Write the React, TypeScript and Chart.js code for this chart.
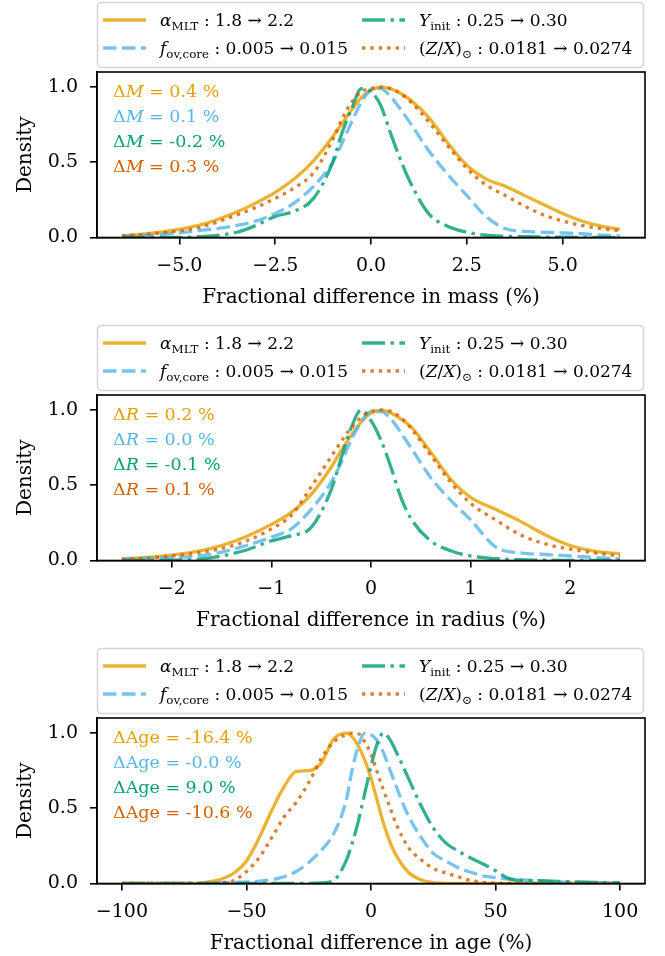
import React, { useEffect, useRef } from 'react';
import { Chart, registerables } from 'chart.js';

Chart.register(...registerables);

// ---------- data ----------
const DENSITY_TICKS = [0, 0.5, 1];

const MASS_X = [-6.5, -5.5, -4.5, -3.5, -3, -2.5, -2, -1.5, -1, -0.75, -0.5, -0.25, 0, 0.25, 0.5, 0.75, 1, 1.5, 2, 2.5, 3, 3.5, 4, 4.5, 5, 5.5, 6, 6.5];
const MASS_ALPHA = [0.01, 0.035, 0.08, 0.17, 0.23, 0.3, 0.39, 0.51, 0.67, 0.76, 0.85, 0.93, 0.98, 1.0, 0.99, 0.96, 0.92, 0.8, 0.63, 0.48, 0.39, 0.34, 0.28, 0.22, 0.16, 0.11, 0.075, 0.055];
const MASS_FOV = [0.01, 0.02, 0.045, 0.08, 0.11, 0.16, 0.23, 0.34, 0.5, 0.63, 0.77, 0.9, 0.98, 0.99, 0.94, 0.86, 0.77, 0.58, 0.42, 0.28, 0.14, 0.06, 0.04, 0.035, 0.03, 0.025, 0.015, 0.01];
const MASS_YINIT = [0, 0, 0.005, 0.035, 0.08, 0.14, 0.175, 0.26, 0.5, 0.7, 0.86, 0.99, 0.97, 0.88, 0.7, 0.53, 0.38, 0.16, 0.075, 0.035, 0.015, 0.008, 0.005, 0.003, 0.002, 0.001, 0, 0];
const MASS_ZX = [0.01, 0.03, 0.065, 0.15, 0.2, 0.26, 0.33, 0.43, 0.65, 0.79, 0.9, 0.97, 0.99, 1.0, 0.99, 0.96, 0.91, 0.77, 0.61, 0.46, 0.35, 0.28, 0.21, 0.15, 0.11, 0.08, 0.06, 0.045];
const MASS_TICKS = [-5, -2.5, 0, 2.5, 5];
const MASS_SHIFTS = ['0.4', '0.1', '-0.2', '0.3'];

const RADIUS_X = [-2.5, -2.25, -2, -1.75, -1.5, -1.25, -1, -0.8, -0.6, -0.4, -0.3, -0.2, -0.1, 0, 0.1, 0.2, 0.3, 0.4, 0.6, 0.8, 1, 1.25, 1.5, 1.75, 2, 2.25, 2.5];
const RADIUS_ALPHA = [0.01, 0.02, 0.035, 0.06, 0.1, 0.16, 0.24, 0.32, 0.44, 0.62, 0.73, 0.83, 0.92, 0.98, 1.0, 0.98, 0.94, 0.89, 0.72, 0.54, 0.42, 0.34, 0.26, 0.17, 0.1, 0.06, 0.045];
const RADIUS_FOV = [0.01, 0.015, 0.02, 0.03, 0.055, 0.1, 0.155, 0.21, 0.34, 0.52, 0.65, 0.8, 0.92, 0.99, 0.99, 0.94, 0.85, 0.75, 0.55, 0.4, 0.27, 0.09, 0.05, 0.04, 0.03, 0.02, 0.01];
const RADIUS_YINIT = [0, 0, 0.002, 0.008, 0.03, 0.07, 0.13, 0.165, 0.22, 0.47, 0.68, 0.88, 1.0, 0.93, 0.8, 0.62, 0.42, 0.28, 0.13, 0.065, 0.03, 0.012, 0.005, 0.002, 0.001, 0, 0];
const RADIUS_ZX = [0.005, 0.015, 0.03, 0.05, 0.08, 0.13, 0.21, 0.3, 0.49, 0.69, 0.79, 0.88, 0.95, 0.99, 1.0, 0.99, 0.95, 0.88, 0.7, 0.52, 0.38, 0.27, 0.17, 0.11, 0.075, 0.05, 0.03];
const RADIUS_TICKS = [-2, -1, 0, 1, 2];
const RADIUS_SHIFTS = ['0.2', '0.0', '-0.1', '0.1'];

const AGE_X = [-100, -90, -80, -70, -65, -60, -55, -50, -45, -40, -35, -30, -25, -20, -15, -10, -7.5, -5, -2.5, 0, 2.5, 5, 7.5, 10, 15, 20, 25, 30, 35, 40, 45, 50, 55, 60, 70, 80, 90, 100];
const AGE_ALPHA = [0, 0, 0, 0.001, 0.01, 0.03, 0.07, 0.15, 0.3, 0.48, 0.64, 0.745, 0.75, 0.8, 0.96, 1.0, 0.975, 0.91, 0.82, 0.7, 0.55, 0.4, 0.28, 0.19, 0.075, 0.025, 0.006, 0.001, 0, 0, 0, 0, 0, 0, 0, 0, 0, 0];
const AGE_FOV = [0, 0, 0.001, 0.002, 0.003, 0.005, 0.007, 0.01, 0.015, 0.025, 0.045, 0.08, 0.14, 0.22, 0.33, 0.55, 0.76, 0.92, 1.0, 0.99, 0.95, 0.87, 0.76, 0.65, 0.45, 0.31, 0.2, 0.15, 0.105, 0.075, 0.05, 0.04, 0.03, 0.025, 0.015, 0.008, 0.005, 0.003];
const AGE_YINIT = [0, 0, 0, 0, 0, 0, 0, 0, 0, 0, 0, 0, 0.001, 0.004, 0.02, 0.15, 0.27, 0.42, 0.6, 0.78, 0.93, 1.0, 0.96, 0.88, 0.7, 0.52, 0.37, 0.27, 0.215, 0.17, 0.13, 0.085, 0.035, 0.02, 0.018, 0.012, 0.008, 0.004];
const AGE_ZX = [0, 0, 0, 0, 0.002, 0.006, 0.02, 0.08, 0.17, 0.3, 0.44, 0.54, 0.67, 0.83, 0.94, 0.99, 1.0, 0.995, 0.94, 0.86, 0.74, 0.62, 0.51, 0.4, 0.24, 0.16, 0.1, 0.07, 0.045, 0.02, 0.008, 0.002, 0, 0, 0, 0, 0, 0];
const AGE_TICKS = [-100, -50, 0, 50, 100];
const AGE_SHIFTS = ['-16.4', '-0.0', '9.0', '-10.6'];

// legend labels (rich-text segments)
type Seg = { t: string; it?: boolean; sub?: boolean };
const LEGEND_LABELS: Seg[][] = [
  [{ t: 'α', it: true }, { t: 'MLT', sub: true }, { t: ' : 1.8 → 2.2' }],
  [{ t: 'f', it: true }, { t: 'ov,core', sub: true }, { t: ' : 0.005 → 0.015' }],
  [{ t: 'Y', it: true }, { t: 'init', sub: true }, { t: ' : 0.25 → 0.30' }],
  [{ t: '(' }, { t: 'Z', it: true }, { t: '/' }, { t: 'X', it: true }, { t: ')' }, { t: '⊙', sub: true }, { t: ' : 0.0181 → 0.0274' }],
];

// ---------- styles ----------
const FONT = '"DejaVu Serif", serif';
const TEXT_COLORS = ['#E69F00', '#56B4E9', '#009E73', '#D55E00'];
const LINE_COLORS = ['rgba(230,159,0,0.8)', 'rgba(86,180,233,0.8)', 'rgba(0,158,115,0.8)', 'rgba(213,94,0,0.8)'];
const DASHES = [[], [13.5, 5.5], [23, 5.5, 3.4, 5.5], [3.4, 5]];
const LINE_W = 3.3;
const PANEL_H = 323;

function fmtTick(v: number, dec: number) {
  const s = Math.abs(v).toFixed(dec);
  return v < 0 ? '\u2212' + s : s;
}

function drawRich(ctx: CanvasRenderingContext2D, segs: Seg[], x: number, y: number, size: number, color: string) {
  let cx = x;
  ctx.fillStyle = color;
  ctx.textAlign = 'left';
  ctx.textBaseline = 'alphabetic';
  for (const s of segs) {
    const fs = s.sub ? size * 0.7 : size;
    ctx.font = `${s.it ? 'italic ' : ''}${fs}px ${FONT}`;
    ctx.fillText(s.t, cx, s.sub ? y + size * 0.22 : y);
    cx += ctx.measureText(s.t).width;
  }
}

type PanelCfg = {
  xs: number[];
  series: number[][];
  ticks: number[];
  dec: number;
  title: string;
  shifts: string[];
  label: Seg[];
};

const PANELS: PanelCfg[] = [
  { xs: MASS_X, series: [MASS_ALPHA, MASS_FOV, MASS_YINIT, MASS_ZX], ticks: MASS_TICKS, dec: 1, title: 'Fractional difference in mass (%)', shifts: MASS_SHIFTS, label: [{ t: 'Δ' }, { t: 'M', it: true }] },
  { xs: RADIUS_X, series: [RADIUS_ALPHA, RADIUS_FOV, RADIUS_YINIT, RADIUS_ZX], ticks: RADIUS_TICKS, dec: 0, title: 'Fractional difference in radius (%)', shifts: RADIUS_SHIFTS, label: [{ t: 'Δ' }, { t: 'R', it: true }] },
  { xs: AGE_X, series: [AGE_ALPHA, AGE_FOV, AGE_YINIT, AGE_ZX], ticks: AGE_TICKS, dec: 0, title: 'Fractional difference in age (%)', shifts: AGE_SHIFTS, label: [{ t: 'ΔAge' }] },
];

function Panel({ cfg, top }: { cfg: PanelCfg; top: number }) {
  const ref = useRef<HTMLCanvasElement | null>(null);
  useEffect(() => {
    const xs = cfg.xs;
    const span = xs[xs.length - 1] - xs[0];
    const xmin = xs[0] - 0.05 * span;
    const xmax = xs[xs.length - 1] + 0.05 * span;

    const overlay = {
      id: 'overlay',
      afterDatasetsDraw(chart: any) {
        const { ctx, chartArea: a } = chart;
        ctx.save();
        ctx.strokeStyle = '#000';
        ctx.lineWidth = 1.6;
        ctx.setLineDash([]);
        ctx.strokeRect(a.left, a.top, a.right - a.left, a.bottom - a.top);
        cfg.shifts.forEach((v, i) => {
          const segs: Seg[] = [...cfg.label, { t: ` = ${v} %` }];
          drawRich(ctx, segs, a.left + 16, a.top + 25 + i * 25, 17.5, TEXT_COLORS[i]);
        });
        ctx.restore();
      },
      afterDraw(chart: any) {
        const { ctx, chartArea: a } = chart;
        ctx.save();
        const bx = a.left, by = 2, bw = a.right - a.left - 2, bh = 65;
        ctx.beginPath();
        (ctx as any).roundRect(bx + 0.5, by + 0.5, bw, bh, 4);
        ctx.fillStyle = '#fff';
        ctx.fill();
        ctx.strokeStyle = '#d4d4d4';
        ctx.lineWidth = 1.5;
        ctx.stroke();
        // column-major order: col0 rows 0,1 ; col1 rows 0,1
        const cols = [bx + 6, bx + 265];
        const rows = [20, 48];
        LEGEND_LABELS.forEach((lab, i) => {
          const col = Math.floor(i / 2), row = i % 2;
          const x0 = cols[col], y0 = rows[row];
          ctx.beginPath();
          ctx.setLineDash(DASHES[i]);
          ctx.lineCap = 'butt';
          ctx.strokeStyle = LINE_COLORS[i];
          ctx.lineWidth = LINE_W;
          ctx.moveTo(x0, y0);
          ctx.lineTo(x0 + 43, y0);
          ctx.stroke();
          ctx.setLineDash([]);
          drawRich(ctx, lab, x0 + 57, y0 + 6, 17, '#000');
        });
        ctx.restore();
      },
    };

    const chart = new Chart(ref.current as HTMLCanvasElement, {
      type: 'line',
      data: {
        datasets: cfg.series.map((ys, i) => ({
          data: xs.map((x, j) => ({ x, y: ys[j] })),
          borderColor: LINE_COLORS[i],
          borderWidth: LINE_W,
          borderDash: DASHES[i],
          borderCapStyle: 'butt',
          pointRadius: 0,
          fill: false,
          cubicInterpolationMode: 'monotone',
          order: 4 - i,
        })),
      },
      options: {
        responsive: false,
        animation: false,
        events: [],
        layout: { padding: { top: 72, right: 20, left: 0, bottom: 0 } },
        plugins: { legend: { display: false }, tooltip: { enabled: false } },
        scales: {
          x: {
            type: 'linear',
            min: xmin,
            max: xmax,
            afterBuildTicks: (s: any) => { s.ticks = cfg.ticks.map((v) => ({ value: v })); },
            afterFit: (s: any) => { s.height = PANEL_H - 237.5; },
            ticks: {
              callback: (v: any) => fmtTick(Number(v), cfg.dec),
              font: { family: FONT, size: 19 },
              color: '#000',
              padding: 10,
              maxRotation: 0,
              autoSkip: false,
            },
            grid: { drawOnChartArea: false, tickLength: 7, color: '#000', lineWidth: 1.6 },
            border: { color: '#000', width: 1.6 },
            title: { display: true, text: cfg.title, font: { family: FONT, size: 20 }, color: '#000', padding: { top: 0, bottom: 13 } },
          },
          y: {
            min: 0,
            max: 1.1,
            afterBuildTicks: (s: any) => { s.ticks = DENSITY_TICKS.map((v) => ({ value: v })); },
            afterFit: (s: any) => { s.width = 97; },
            ticks: {
              callback: (v: any) => Number(v).toFixed(1),
              font: { family: FONT, size: 19 },
              color: '#000',
              padding: 12,
            },
            grid: { drawOnChartArea: false, tickLength: 7, color: '#000', lineWidth: 1.6 },
            border: { color: '#000', width: 1.6 },
            title: { display: true, text: 'Density', font: { family: FONT, size: 20 }, color: '#000', padding: { top: 14, bottom: 0 } },
          },
        },
      },
      plugins: [overlay],
    } as any);
    return () => chart.destroy();
  }, [cfg]);
  return (
    <canvas
      ref={ref}
      width={665}
      height={PANEL_H}
      style={{ position: 'absolute', left: 0, top, width: 665, height: PANEL_H, display: 'block' }}
    />
  );
}

export default function App() {
  return (
    <div style={{ position: 'absolute', left: 0, top: 0, width: 665, height: 956, overflow: 'hidden', background: '#fff' }}>
      {PANELS.map((p, i) => (
        <Panel key={i} cfg={p} top={i * PANEL_H} />
      ))}
    </div>
  );
}
